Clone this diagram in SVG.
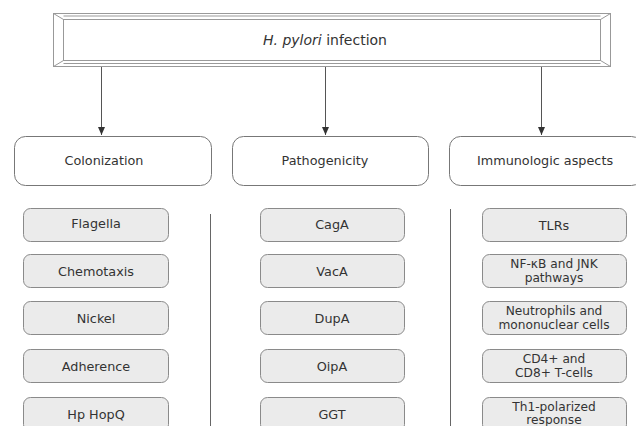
<svg xmlns="http://www.w3.org/2000/svg" width="636" height="426" viewBox="0 0 636 426">
<defs>
<marker id="ah" markerWidth="8" markerHeight="8" refX="8" refY="4" orient="auto" markerUnits="userSpaceOnUse" viewBox="0 0 8 8">
<path d="M0,0.5 L8,4 L0,7.5 Z" fill="#333"/>
</marker>
<style>
text{font-family:"DejaVu Sans","Verdana",sans-serif;font-size:12.8px;fill:#333;text-anchor:middle;dominant-baseline:central}
.two{font-size:12.2px}
.cat{fill:#fff;stroke:#777;stroke-width:1}
.sub{fill:#ebebeb;stroke:#8a8a8a;stroke-width:1}
.bev{fill:none;stroke:#999;stroke-width:1}
.conn{stroke:#555;stroke-width:1;fill:none}
.sep{stroke:#666;stroke-width:1}
</style>
</defs>
<rect width="636" height="426" fill="#fff"/>
<g id="root">
<rect x="53.5" y="13.5" width="557" height="53" fill="#fff" class="bev"/>
<rect x="63.5" y="19.5" width="537" height="41" class="bev"/>
<path class="bev" d="M53.5,13.5 L63.5,19.5 M610.5,13.5 L600.5,19.5 M53.5,66.5 L63.5,60.5 M610.5,66.5 L600.5,60.5"/>
<path class="bev" d="M63.5,16 L600.5,16 M63.5,63.5 L600.5,63.5" stroke="#ccc"/>
<text x="325" y="40" style="font-size:14px"><tspan font-style="italic">H. pylori</tspan> infection</text>
</g>
<g id="connectors">
<line class="conn" x1="101.5" y1="67" x2="101.5" y2="135" marker-end="url(#ah)"/>
<line class="conn" x1="325.5" y1="67" x2="325.5" y2="135" marker-end="url(#ah)"/>
<line class="conn" x1="541.5" y1="67" x2="541.5" y2="135" marker-end="url(#ah)" stroke="#888"/>
<line class="sep" x1="210.5" y1="214" x2="210.5" y2="426"/>
<line class="sep" x1="450.5" y1="209" x2="450.5" y2="426"/>
</g>
<g id="colonization"><rect class="cat" x="14.5" y="136.5" width="197" height="49" rx="11"/><text x="104" y="160">Colonization</text></g>
<g id="pathogenicity"><rect class="cat" x="232.5" y="136.5" width="196" height="49" rx="11"/><text x="325" y="160">Pathogenicity</text></g>
<g id="immunologic"><rect class="cat" x="449.5" y="136.5" width="193" height="49" rx="11"/><text x="545" y="160">Immunologic aspects</text></g>
<g id="flagella"><rect class="sub" x="23.5" y="208.5" width="145" height="33" rx="7"/><text x="96" y="223">Flagella</text></g>
<g id="chemotaxis"><rect class="sub" x="23.5" y="254.5" width="145" height="33" rx="7"/><text x="96" y="271">Chemotaxis</text></g>
<g id="nickel"><rect class="sub" x="23.5" y="301.5" width="145" height="33" rx="7"/><text x="96" y="318">Nickel</text></g>
<g id="adherence"><rect class="sub" x="23.5" y="349.5" width="145" height="33" rx="7"/><text x="96" y="366">Adherence</text></g>
<g id="hophopq"><rect class="sub" x="23.5" y="397.5" width="145" height="34" rx="7"/><text x="96" y="414">Hp HopQ</text></g>
<g id="caga"><rect class="sub" x="260.5" y="208.5" width="144" height="33" rx="7"/><text x="332" y="224">CagA</text></g>
<g id="vaca"><rect class="sub" x="260.5" y="254.5" width="144" height="33" rx="7"/><text x="332" y="271">VacA</text></g>
<g id="dupa"><rect class="sub" x="260.5" y="301.5" width="144" height="33" rx="7"/><text x="332" y="318">DupA</text></g>
<g id="oipa"><rect class="sub" x="260.5" y="349.5" width="144" height="33" rx="7"/><text x="332" y="366">OipA</text></g>
<g id="ggt"><rect class="sub" x="260.5" y="397.5" width="144" height="34" rx="7"/><text x="332" y="414">GGT</text></g>
<g id="tlrs"><rect class="sub" x="482.5" y="208.5" width="144" height="33" rx="7"/><text x="554" y="225">TLRs</text></g>
<g id="nfkb"><rect class="sub" x="482.5" y="254.5" width="144" height="33" rx="7"/><text class="two" x="554" y="264">NF-κB and JNK</text><text class="two" x="554" y="278">pathways</text></g>
<g id="neutrophils"><rect class="sub" x="482.5" y="301.5" width="144" height="33" rx="7"/><text class="two" x="554" y="311">Neutrophils and</text><text class="two" x="554" y="325">mononuclear cells</text></g>
<g id="cd4"><rect class="sub" x="482.5" y="349.5" width="144" height="33" rx="7"/><text class="two" x="554" y="359">CD4+ and</text><text class="two" x="554" y="373">CD8+ T-cells</text></g>
<g id="th1"><rect class="sub" x="482.5" y="397.5" width="144" height="34" rx="7"/><text class="two" x="554" y="407">Th1-polarized</text><text class="two" x="554" y="420">response</text></g>
</svg>
